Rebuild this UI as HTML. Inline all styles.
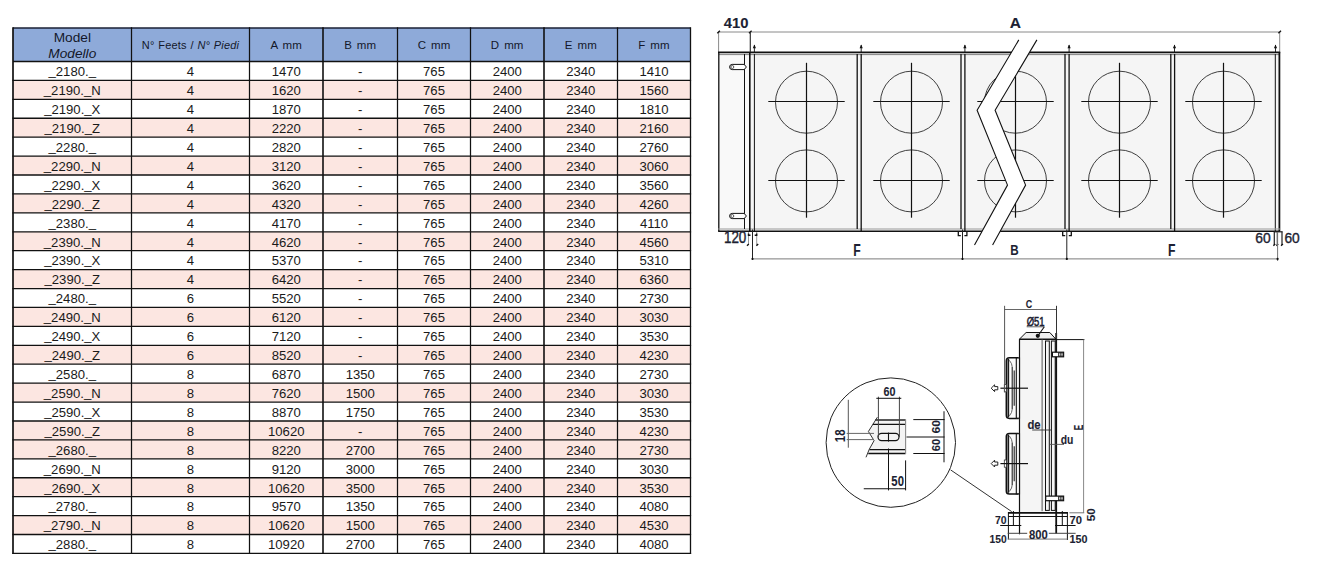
<!DOCTYPE html>
<html><head><meta charset="utf-8"><style>
html,body{margin:0;padding:0;background:#fff;width:1318px;height:576px;overflow:hidden;}
svg{display:block;}
</style></head><body>
<svg width="1318" height="576" viewBox="0 0 1318 576">
<rect width="1318" height="576" fill="#fff"/>
<rect x="13" y="28" width="677.5" height="33.5" fill="#8eaad9"/>
<rect x="13" y="80.42" width="677.5" height="18.92" fill="#fce6e1"/>
<rect x="13" y="118.26" width="677.5" height="18.92" fill="#fce6e1"/>
<rect x="13" y="156.10" width="677.5" height="18.92" fill="#fce6e1"/>
<rect x="13" y="193.94" width="677.5" height="18.92" fill="#fce6e1"/>
<rect x="13" y="231.78" width="677.5" height="18.92" fill="#fce6e1"/>
<rect x="13" y="269.62" width="677.5" height="18.92" fill="#fce6e1"/>
<rect x="13" y="307.46" width="677.5" height="18.92" fill="#fce6e1"/>
<rect x="13" y="345.30" width="677.5" height="18.92" fill="#fce6e1"/>
<rect x="13" y="383.14" width="677.5" height="18.92" fill="#fce6e1"/>
<rect x="13" y="420.98" width="677.5" height="18.92" fill="#fce6e1"/>
<rect x="13" y="439.90" width="677.5" height="18.92" fill="#fce6e1"/>
<rect x="13" y="477.74" width="677.5" height="18.92" fill="#fce6e1"/>
<rect x="13" y="515.58" width="677.5" height="18.92" fill="#fce6e1"/>
<g font-family="Liberation Sans" fill="#1a1a1a" font-size="13.6" text-anchor="middle" transform="matrix(0.965 0 0 1 0 0)">
<text x="74.87" y="76.30"><tspan dy="-1.00">_</tspan><tspan dy="1.00">2180.</tspan><tspan dy="-1.00">_</tspan></text>
<text x="197.41" y="76.30"><tspan>4</tspan></text>
<text x="296.63" y="76.30"><tspan>1470</tspan></text>
<text x="373.32" y="76.30"><tspan>-</tspan></text>
<text x="449.74" y="76.30"><tspan>765</tspan></text>
<text x="525.65" y="76.30"><tspan>2400</tspan></text>
<text x="601.81" y="76.30"><tspan>2340</tspan></text>
<text x="677.72" y="76.30"><tspan>1410</tspan></text>
<text x="74.87" y="95.22"><tspan dy="-1.00">_</tspan><tspan dy="1.00">2190.</tspan><tspan dy="-1.00">_</tspan><tspan dy="1.00">N</tspan></text>
<text x="197.41" y="95.22"><tspan>4</tspan></text>
<text x="296.63" y="95.22"><tspan>1620</tspan></text>
<text x="373.32" y="95.22"><tspan>-</tspan></text>
<text x="449.74" y="95.22"><tspan>765</tspan></text>
<text x="525.65" y="95.22"><tspan>2400</tspan></text>
<text x="601.81" y="95.22"><tspan>2340</tspan></text>
<text x="677.72" y="95.22"><tspan>1560</tspan></text>
<text x="74.87" y="114.14"><tspan dy="-1.00">_</tspan><tspan dy="1.00">2190.</tspan><tspan dy="-1.00">_</tspan><tspan dy="1.00">X</tspan></text>
<text x="197.41" y="114.14"><tspan>4</tspan></text>
<text x="296.63" y="114.14"><tspan>1870</tspan></text>
<text x="373.32" y="114.14"><tspan>-</tspan></text>
<text x="449.74" y="114.14"><tspan>765</tspan></text>
<text x="525.65" y="114.14"><tspan>2400</tspan></text>
<text x="601.81" y="114.14"><tspan>2340</tspan></text>
<text x="677.72" y="114.14"><tspan>1810</tspan></text>
<text x="74.87" y="133.06"><tspan dy="-1.00">_</tspan><tspan dy="1.00">2190.</tspan><tspan dy="-1.00">_</tspan><tspan dy="1.00">Z</tspan></text>
<text x="197.41" y="133.06"><tspan>4</tspan></text>
<text x="296.63" y="133.06"><tspan>2220</tspan></text>
<text x="373.32" y="133.06"><tspan>-</tspan></text>
<text x="449.74" y="133.06"><tspan>765</tspan></text>
<text x="525.65" y="133.06"><tspan>2400</tspan></text>
<text x="601.81" y="133.06"><tspan>2340</tspan></text>
<text x="677.72" y="133.06"><tspan>2160</tspan></text>
<text x="74.87" y="151.98"><tspan dy="-1.00">_</tspan><tspan dy="1.00">2280.</tspan><tspan dy="-1.00">_</tspan></text>
<text x="197.41" y="151.98"><tspan>4</tspan></text>
<text x="296.63" y="151.98"><tspan>2820</tspan></text>
<text x="373.32" y="151.98"><tspan>-</tspan></text>
<text x="449.74" y="151.98"><tspan>765</tspan></text>
<text x="525.65" y="151.98"><tspan>2400</tspan></text>
<text x="601.81" y="151.98"><tspan>2340</tspan></text>
<text x="677.72" y="151.98"><tspan>2760</tspan></text>
<text x="74.87" y="170.90"><tspan dy="-1.00">_</tspan><tspan dy="1.00">2290.</tspan><tspan dy="-1.00">_</tspan><tspan dy="1.00">N</tspan></text>
<text x="197.41" y="170.90"><tspan>4</tspan></text>
<text x="296.63" y="170.90"><tspan>3120</tspan></text>
<text x="373.32" y="170.90"><tspan>-</tspan></text>
<text x="449.74" y="170.90"><tspan>765</tspan></text>
<text x="525.65" y="170.90"><tspan>2400</tspan></text>
<text x="601.81" y="170.90"><tspan>2340</tspan></text>
<text x="677.72" y="170.90"><tspan>3060</tspan></text>
<text x="74.87" y="189.82"><tspan dy="-1.00">_</tspan><tspan dy="1.00">2290.</tspan><tspan dy="-1.00">_</tspan><tspan dy="1.00">X</tspan></text>
<text x="197.41" y="189.82"><tspan>4</tspan></text>
<text x="296.63" y="189.82"><tspan>3620</tspan></text>
<text x="373.32" y="189.82"><tspan>-</tspan></text>
<text x="449.74" y="189.82"><tspan>765</tspan></text>
<text x="525.65" y="189.82"><tspan>2400</tspan></text>
<text x="601.81" y="189.82"><tspan>2340</tspan></text>
<text x="677.72" y="189.82"><tspan>3560</tspan></text>
<text x="74.87" y="208.74"><tspan dy="-1.00">_</tspan><tspan dy="1.00">2290.</tspan><tspan dy="-1.00">_</tspan><tspan dy="1.00">Z</tspan></text>
<text x="197.41" y="208.74"><tspan>4</tspan></text>
<text x="296.63" y="208.74"><tspan>4320</tspan></text>
<text x="373.32" y="208.74"><tspan>-</tspan></text>
<text x="449.74" y="208.74"><tspan>765</tspan></text>
<text x="525.65" y="208.74"><tspan>2400</tspan></text>
<text x="601.81" y="208.74"><tspan>2340</tspan></text>
<text x="677.72" y="208.74"><tspan>4260</tspan></text>
<text x="74.87" y="227.66"><tspan dy="-1.00">_</tspan><tspan dy="1.00">2380.</tspan><tspan dy="-1.00">_</tspan></text>
<text x="197.41" y="227.66"><tspan>4</tspan></text>
<text x="296.63" y="227.66"><tspan>4170</tspan></text>
<text x="373.32" y="227.66"><tspan>-</tspan></text>
<text x="449.74" y="227.66"><tspan>765</tspan></text>
<text x="525.65" y="227.66"><tspan>2400</tspan></text>
<text x="601.81" y="227.66"><tspan>2340</tspan></text>
<text x="677.72" y="227.66"><tspan>4110</tspan></text>
<text x="74.87" y="246.58"><tspan dy="-1.00">_</tspan><tspan dy="1.00">2390.</tspan><tspan dy="-1.00">_</tspan><tspan dy="1.00">N</tspan></text>
<text x="197.41" y="246.58"><tspan>4</tspan></text>
<text x="296.63" y="246.58"><tspan>4620</tspan></text>
<text x="373.32" y="246.58"><tspan>-</tspan></text>
<text x="449.74" y="246.58"><tspan>765</tspan></text>
<text x="525.65" y="246.58"><tspan>2400</tspan></text>
<text x="601.81" y="246.58"><tspan>2340</tspan></text>
<text x="677.72" y="246.58"><tspan>4560</tspan></text>
<text x="74.87" y="265.50"><tspan dy="-1.00">_</tspan><tspan dy="1.00">2390.</tspan><tspan dy="-1.00">_</tspan><tspan dy="1.00">X</tspan></text>
<text x="197.41" y="265.50"><tspan>4</tspan></text>
<text x="296.63" y="265.50"><tspan>5370</tspan></text>
<text x="373.32" y="265.50"><tspan>-</tspan></text>
<text x="449.74" y="265.50"><tspan>765</tspan></text>
<text x="525.65" y="265.50"><tspan>2400</tspan></text>
<text x="601.81" y="265.50"><tspan>2340</tspan></text>
<text x="677.72" y="265.50"><tspan>5310</tspan></text>
<text x="74.87" y="284.42"><tspan dy="-1.00">_</tspan><tspan dy="1.00">2390.</tspan><tspan dy="-1.00">_</tspan><tspan dy="1.00">Z</tspan></text>
<text x="197.41" y="284.42"><tspan>4</tspan></text>
<text x="296.63" y="284.42"><tspan>6420</tspan></text>
<text x="373.32" y="284.42"><tspan>-</tspan></text>
<text x="449.74" y="284.42"><tspan>765</tspan></text>
<text x="525.65" y="284.42"><tspan>2400</tspan></text>
<text x="601.81" y="284.42"><tspan>2340</tspan></text>
<text x="677.72" y="284.42"><tspan>6360</tspan></text>
<text x="74.87" y="303.34"><tspan dy="-1.00">_</tspan><tspan dy="1.00">2480.</tspan><tspan dy="-1.00">_</tspan></text>
<text x="197.41" y="303.34"><tspan>6</tspan></text>
<text x="296.63" y="303.34"><tspan>5520</tspan></text>
<text x="373.32" y="303.34"><tspan>-</tspan></text>
<text x="449.74" y="303.34"><tspan>765</tspan></text>
<text x="525.65" y="303.34"><tspan>2400</tspan></text>
<text x="601.81" y="303.34"><tspan>2340</tspan></text>
<text x="677.72" y="303.34"><tspan>2730</tspan></text>
<text x="74.87" y="322.26"><tspan dy="-1.00">_</tspan><tspan dy="1.00">2490.</tspan><tspan dy="-1.00">_</tspan><tspan dy="1.00">N</tspan></text>
<text x="197.41" y="322.26"><tspan>6</tspan></text>
<text x="296.63" y="322.26"><tspan>6120</tspan></text>
<text x="373.32" y="322.26"><tspan>-</tspan></text>
<text x="449.74" y="322.26"><tspan>765</tspan></text>
<text x="525.65" y="322.26"><tspan>2400</tspan></text>
<text x="601.81" y="322.26"><tspan>2340</tspan></text>
<text x="677.72" y="322.26"><tspan>3030</tspan></text>
<text x="74.87" y="341.18"><tspan dy="-1.00">_</tspan><tspan dy="1.00">2490.</tspan><tspan dy="-1.00">_</tspan><tspan dy="1.00">X</tspan></text>
<text x="197.41" y="341.18"><tspan>6</tspan></text>
<text x="296.63" y="341.18"><tspan>7120</tspan></text>
<text x="373.32" y="341.18"><tspan>-</tspan></text>
<text x="449.74" y="341.18"><tspan>765</tspan></text>
<text x="525.65" y="341.18"><tspan>2400</tspan></text>
<text x="601.81" y="341.18"><tspan>2340</tspan></text>
<text x="677.72" y="341.18"><tspan>3530</tspan></text>
<text x="74.87" y="360.10"><tspan dy="-1.00">_</tspan><tspan dy="1.00">2490.</tspan><tspan dy="-1.00">_</tspan><tspan dy="1.00">Z</tspan></text>
<text x="197.41" y="360.10"><tspan>6</tspan></text>
<text x="296.63" y="360.10"><tspan>8520</tspan></text>
<text x="373.32" y="360.10"><tspan>-</tspan></text>
<text x="449.74" y="360.10"><tspan>765</tspan></text>
<text x="525.65" y="360.10"><tspan>2400</tspan></text>
<text x="601.81" y="360.10"><tspan>2340</tspan></text>
<text x="677.72" y="360.10"><tspan>4230</tspan></text>
<text x="74.87" y="379.02"><tspan dy="-1.00">_</tspan><tspan dy="1.00">2580.</tspan><tspan dy="-1.00">_</tspan></text>
<text x="197.41" y="379.02"><tspan>8</tspan></text>
<text x="296.63" y="379.02"><tspan>6870</tspan></text>
<text x="373.32" y="379.02"><tspan>1350</tspan></text>
<text x="449.74" y="379.02"><tspan>765</tspan></text>
<text x="525.65" y="379.02"><tspan>2400</tspan></text>
<text x="601.81" y="379.02"><tspan>2340</tspan></text>
<text x="677.72" y="379.02"><tspan>2730</tspan></text>
<text x="74.87" y="397.94"><tspan dy="-1.00">_</tspan><tspan dy="1.00">2590.</tspan><tspan dy="-1.00">_</tspan><tspan dy="1.00">N</tspan></text>
<text x="197.41" y="397.94"><tspan>8</tspan></text>
<text x="296.63" y="397.94"><tspan>7620</tspan></text>
<text x="373.32" y="397.94"><tspan>1500</tspan></text>
<text x="449.74" y="397.94"><tspan>765</tspan></text>
<text x="525.65" y="397.94"><tspan>2400</tspan></text>
<text x="601.81" y="397.94"><tspan>2340</tspan></text>
<text x="677.72" y="397.94"><tspan>3030</tspan></text>
<text x="74.87" y="416.86"><tspan dy="-1.00">_</tspan><tspan dy="1.00">2590.</tspan><tspan dy="-1.00">_</tspan><tspan dy="1.00">X</tspan></text>
<text x="197.41" y="416.86"><tspan>8</tspan></text>
<text x="296.63" y="416.86"><tspan>8870</tspan></text>
<text x="373.32" y="416.86"><tspan>1750</tspan></text>
<text x="449.74" y="416.86"><tspan>765</tspan></text>
<text x="525.65" y="416.86"><tspan>2400</tspan></text>
<text x="601.81" y="416.86"><tspan>2340</tspan></text>
<text x="677.72" y="416.86"><tspan>3530</tspan></text>
<text x="74.87" y="435.78"><tspan dy="-1.00">_</tspan><tspan dy="1.00">2590.</tspan><tspan dy="-1.00">_</tspan><tspan dy="1.00">Z</tspan></text>
<text x="197.41" y="435.78"><tspan>8</tspan></text>
<text x="296.63" y="435.78"><tspan>10620</tspan></text>
<text x="373.32" y="435.78"><tspan>-</tspan></text>
<text x="449.74" y="435.78"><tspan>765</tspan></text>
<text x="525.65" y="435.78"><tspan>2400</tspan></text>
<text x="601.81" y="435.78"><tspan>2340</tspan></text>
<text x="677.72" y="435.78"><tspan>4230</tspan></text>
<text x="74.87" y="454.70"><tspan dy="-1.00">_</tspan><tspan dy="1.00">2680.</tspan><tspan dy="-1.00">_</tspan></text>
<text x="197.41" y="454.70"><tspan>8</tspan></text>
<text x="296.63" y="454.70"><tspan>8220</tspan></text>
<text x="373.32" y="454.70"><tspan>2700</tspan></text>
<text x="449.74" y="454.70"><tspan>765</tspan></text>
<text x="525.65" y="454.70"><tspan>2400</tspan></text>
<text x="601.81" y="454.70"><tspan>2340</tspan></text>
<text x="677.72" y="454.70"><tspan>2730</tspan></text>
<text x="74.87" y="473.62"><tspan dy="-1.00">_</tspan><tspan dy="1.00">2690.</tspan><tspan dy="-1.00">_</tspan><tspan dy="1.00">N</tspan></text>
<text x="197.41" y="473.62"><tspan>8</tspan></text>
<text x="296.63" y="473.62"><tspan>9120</tspan></text>
<text x="373.32" y="473.62"><tspan>3000</tspan></text>
<text x="449.74" y="473.62"><tspan>765</tspan></text>
<text x="525.65" y="473.62"><tspan>2400</tspan></text>
<text x="601.81" y="473.62"><tspan>2340</tspan></text>
<text x="677.72" y="473.62"><tspan>3030</tspan></text>
<text x="74.87" y="492.54"><tspan dy="-1.00">_</tspan><tspan dy="1.00">2690.</tspan><tspan dy="-1.00">_</tspan><tspan dy="1.00">X</tspan></text>
<text x="197.41" y="492.54"><tspan>8</tspan></text>
<text x="296.63" y="492.54"><tspan>10620</tspan></text>
<text x="373.32" y="492.54"><tspan>3500</tspan></text>
<text x="449.74" y="492.54"><tspan>765</tspan></text>
<text x="525.65" y="492.54"><tspan>2400</tspan></text>
<text x="601.81" y="492.54"><tspan>2340</tspan></text>
<text x="677.72" y="492.54"><tspan>3530</tspan></text>
<text x="74.87" y="511.46"><tspan dy="-1.00">_</tspan><tspan dy="1.00">2780.</tspan><tspan dy="-1.00">_</tspan></text>
<text x="197.41" y="511.46"><tspan>8</tspan></text>
<text x="296.63" y="511.46"><tspan>9570</tspan></text>
<text x="373.32" y="511.46"><tspan>1350</tspan></text>
<text x="449.74" y="511.46"><tspan>765</tspan></text>
<text x="525.65" y="511.46"><tspan>2400</tspan></text>
<text x="601.81" y="511.46"><tspan>2340</tspan></text>
<text x="677.72" y="511.46"><tspan>4080</tspan></text>
<text x="74.87" y="530.38"><tspan dy="-1.00">_</tspan><tspan dy="1.00">2790.</tspan><tspan dy="-1.00">_</tspan><tspan dy="1.00">N</tspan></text>
<text x="197.41" y="530.38"><tspan>8</tspan></text>
<text x="296.63" y="530.38"><tspan>10620</tspan></text>
<text x="373.32" y="530.38"><tspan>1500</tspan></text>
<text x="449.74" y="530.38"><tspan>765</tspan></text>
<text x="525.65" y="530.38"><tspan>2400</tspan></text>
<text x="601.81" y="530.38"><tspan>2340</tspan></text>
<text x="677.72" y="530.38"><tspan>4530</tspan></text>
<text x="74.87" y="549.30"><tspan dy="-1.00">_</tspan><tspan dy="1.00">2880.</tspan><tspan dy="-1.00">_</tspan></text>
<text x="197.41" y="549.30"><tspan>8</tspan></text>
<text x="296.63" y="549.30"><tspan>10920</tspan></text>
<text x="373.32" y="549.30"><tspan>2700</tspan></text>
<text x="449.74" y="549.30"><tspan>765</tspan></text>
<text x="525.65" y="549.30"><tspan>2400</tspan></text>
<text x="601.81" y="549.30"><tspan>2340</tspan></text>
<text x="677.72" y="549.30"><tspan>4080</tspan></text>
</g>
<g font-family="Liberation Sans" fill="#14182a" text-anchor="middle">
<text x="72.3" y="41.6" font-size="13.7">Model</text>
<text x="72.3" y="57.6" font-size="13.7" font-style="italic">Modello</text>
<text x="190.5" y="49.2" font-size="11" letter-spacing="0.18" word-spacing="0.5">N° Feets / <tspan font-style="italic">N° Piedi</tspan></text>
<text x="286.2" y="49.4" font-size="11.5" letter-spacing="0.1" word-spacing="1.6">A mm</text>
<text x="360.2" y="49.4" font-size="11.5" letter-spacing="0.1" word-spacing="1.6">B mm</text>
<text x="434.0" y="49.4" font-size="11.5" letter-spacing="0.1" word-spacing="1.6">C mm</text>
<text x="507.2" y="49.4" font-size="11.5" letter-spacing="0.1" word-spacing="1.6">D mm</text>
<text x="580.8" y="49.4" font-size="11.5" letter-spacing="0.1" word-spacing="1.6">E mm</text>
<text x="654.0" y="49.4" font-size="11.5" letter-spacing="0.1" word-spacing="1.6">F mm</text>
</g>
<g stroke="#111" stroke-width="1.3" fill="none">
<line x1="13" y1="28" x2="690.5" y2="28" stroke="#1a2035" stroke-width="1.6"/>
<line x1="13" y1="61.5" x2="690.5" y2="61.5" stroke-width="1.6"/>
<line x1="12.4" y1="80.42" x2="691.1" y2="80.42"/>
<line x1="12.4" y1="99.34" x2="691.1" y2="99.34"/>
<line x1="12.4" y1="118.26" x2="691.1" y2="118.26"/>
<line x1="12.4" y1="137.18" x2="691.1" y2="137.18"/>
<line x1="12.4" y1="156.10" x2="691.1" y2="156.10"/>
<line x1="12.4" y1="175.02" x2="691.1" y2="175.02"/>
<line x1="12.4" y1="193.94" x2="691.1" y2="193.94"/>
<line x1="12.4" y1="212.86" x2="691.1" y2="212.86"/>
<line x1="12.4" y1="231.78" x2="691.1" y2="231.78"/>
<line x1="12.4" y1="250.70" x2="691.1" y2="250.70"/>
<line x1="12.4" y1="269.62" x2="691.1" y2="269.62"/>
<line x1="12.4" y1="288.54" x2="691.1" y2="288.54"/>
<line x1="12.4" y1="307.46" x2="691.1" y2="307.46"/>
<line x1="12.4" y1="326.38" x2="691.1" y2="326.38"/>
<line x1="12.4" y1="345.30" x2="691.1" y2="345.30"/>
<line x1="12.4" y1="364.22" x2="691.1" y2="364.22"/>
<line x1="12.4" y1="383.14" x2="691.1" y2="383.14"/>
<line x1="12.4" y1="402.06" x2="691.1" y2="402.06"/>
<line x1="12.4" y1="420.98" x2="691.1" y2="420.98"/>
<line x1="12.4" y1="439.90" x2="691.1" y2="439.90"/>
<line x1="12.4" y1="458.82" x2="691.1" y2="458.82"/>
<line x1="12.4" y1="477.74" x2="691.1" y2="477.74"/>
<line x1="12.4" y1="496.66" x2="691.1" y2="496.66"/>
<line x1="12.4" y1="515.58" x2="691.1" y2="515.58"/>
<line x1="12.4" y1="534.50" x2="691.1" y2="534.50"/>
<line x1="12.4" y1="553.42" x2="691.1" y2="553.42"/>
<line x1="13" y1="27.2" x2="13" y2="554.02" stroke-width="1.7"/>
<line x1="131.5" y1="27.2" x2="131.5" y2="554.02" stroke-width="1.25"/>
<line x1="249.5" y1="27.2" x2="249.5" y2="554.02" stroke-width="1.25"/>
<line x1="323" y1="27.2" x2="323" y2="554.02" stroke-width="1.6"/>
<line x1="397.5" y1="27.2" x2="397.5" y2="554.02" stroke-width="1.25"/>
<line x1="470.5" y1="27.2" x2="470.5" y2="554.02" stroke-width="1.25"/>
<line x1="544" y1="27.2" x2="544" y2="554.02" stroke-width="1.6"/>
<line x1="617.5" y1="27.2" x2="617.5" y2="554.02" stroke-width="1.25"/>
<line x1="690.5" y1="27.2" x2="690.5" y2="554.02" stroke-width="1.3"/>
</g>
<rect x="718.8" y="52" width="31" height="178.5" fill="#f9f9f9"/>
<rect x="750" y="52" width="529.3" height="178.5" fill="#f5f5f5"/>
<g stroke="#8a8a8a" stroke-width="1" fill="none">
<line x1="718.6" y1="32" x2="1279.7" y2="32"/>
<line x1="718.6" y1="32" x2="718.6" y2="52"/>
<line x1="750.3" y1="32" x2="750.3" y2="52"/>
<line x1="1279.7" y1="32" x2="1279.7" y2="52"/>
</g>
<g stroke="#111" fill="none">
<line x1="718" y1="52.4" x2="1280.2" y2="52.4" stroke-width="1.9"/>
<line x1="718.8" y1="54.6" x2="1279" y2="54.6" stroke="#777" stroke-width="0.9"/>
<line x1="718.8" y1="52" x2="718.8" y2="231.5" stroke-width="1.3"/>
<line x1="1279.4" y1="52" x2="1279.4" y2="232" stroke-width="1.8"/>
<line x1="1275.3" y1="54" x2="1275.3" y2="231" stroke-width="1"/>
<line x1="718.2" y1="229.0" x2="1280" y2="229.0" stroke="#999" stroke-width="1"/>
<line x1="718.2" y1="231.3" x2="1280" y2="231.3" stroke-width="1.5"/>
<line x1="744.5" y1="54" x2="744.5" y2="229" stroke-width="1"/>
<line x1="749.8" y1="52" x2="749.8" y2="231" stroke-width="1.6"/>
<line x1="754.4" y1="54" x2="754.4" y2="231" stroke-width="1"/>
<line x1="857.2" y1="54" x2="857.2" y2="229" stroke-width="1.3"/>
<line x1="861.2" y1="54" x2="861.2" y2="231" stroke-width="1.3"/>
<line x1="961.0" y1="54" x2="961.0" y2="229" stroke-width="1.3"/>
<line x1="964.9" y1="54" x2="964.9" y2="231" stroke-width="1.3"/>
<line x1="1065.0" y1="54" x2="1065.0" y2="229" stroke-width="1.3"/>
<line x1="1069.1" y1="54" x2="1069.1" y2="231" stroke-width="1.3"/>
<line x1="1170.8" y1="54" x2="1170.8" y2="229" stroke-width="1.3"/>
<line x1="1174.6" y1="54" x2="1174.6" y2="231" stroke-width="1.3"/>
</g>
<path d="M732.2,64.4 L744.2,64.4 L746.4,67 L744.2,69.6 L732.2,69.6 A2.6,2.6 0 0 1 732.2,64.4 Z" fill="#fff" stroke="#111" stroke-width="1"/>
<circle cx="732.3" cy="67" r="1.5" fill="none" stroke="#333" stroke-width="0.8"/>
<path d="M732.2,213.4 L744.2,213.4 L746.4,216 L744.2,218.6 L732.2,218.6 A2.6,2.6 0 0 1 732.2,213.4 Z" fill="#fff" stroke="#111" stroke-width="1"/>
<circle cx="732.3" cy="216" r="1.5" fill="none" stroke="#333" stroke-width="0.8"/>
<g stroke="#111" stroke-width="0.9" fill="#111">
<line x1="754.4" y1="45" x2="754.4" y2="52"/><path d="M752.8,48.2 L754.4,44.6 L756.0,48.2 Z" stroke="none"/>
<line x1="861.2" y1="45" x2="861.2" y2="52"/><path d="M859.6,48.2 L861.2,44.6 L862.8000000000001,48.2 Z" stroke="none"/>
<line x1="964.9" y1="45" x2="964.9" y2="52"/><path d="M963.3,48.2 L964.9,44.6 L966.5,48.2 Z" stroke="none"/>
<line x1="1069.1" y1="45" x2="1069.1" y2="52"/><path d="M1067.5,48.2 L1069.1,44.6 L1070.6999999999998,48.2 Z" stroke="none"/>
<line x1="1174.5" y1="45" x2="1174.5" y2="52"/><path d="M1172.9,48.2 L1174.5,44.6 L1176.1,48.2 Z" stroke="none"/>
<line x1="1275.5" y1="45" x2="1275.5" y2="52"/><path d="M1273.9,48.2 L1275.5,44.6 L1277.1,48.2 Z" stroke="none"/>
</g>
<g fill="none">
<circle cx="806.5" cy="102.2" r="31" stroke="#2a2a2a" stroke-width="0.9"/>
<line x1="768.3" y1="101.5" x2="844.7" y2="101.5" stroke="#111" stroke-width="1.2"/>
<circle cx="806.5" cy="180.9" r="31" stroke="#2a2a2a" stroke-width="0.9"/>
<line x1="768.3" y1="180.5" x2="844.7" y2="180.5" stroke="#111" stroke-width="1.2"/>
<line x1="806.5" y1="62.8" x2="806.5" y2="217.7" stroke="#111" stroke-width="1.2"/>
<circle cx="911.5" cy="102.2" r="31" stroke="#2a2a2a" stroke-width="0.9"/>
<line x1="873.3" y1="101.5" x2="949.7" y2="101.5" stroke="#111" stroke-width="1.2"/>
<circle cx="911.5" cy="180.9" r="31" stroke="#2a2a2a" stroke-width="0.9"/>
<line x1="873.3" y1="180.5" x2="949.7" y2="180.5" stroke="#111" stroke-width="1.2"/>
<line x1="911.5" y1="62.8" x2="911.5" y2="217.7" stroke="#111" stroke-width="1.2"/>
<circle cx="1015.5" cy="102.2" r="31" stroke="#2a2a2a" stroke-width="0.9"/>
<line x1="977.3" y1="101.5" x2="1053.7" y2="101.5" stroke="#111" stroke-width="1.2"/>
<circle cx="1015.5" cy="180.9" r="31" stroke="#2a2a2a" stroke-width="0.9"/>
<line x1="977.3" y1="180.5" x2="1053.7" y2="180.5" stroke="#111" stroke-width="1.2"/>
<line x1="1015.5" y1="62.8" x2="1015.5" y2="217.7" stroke="#111" stroke-width="1.2"/>
<circle cx="1119.5" cy="102.2" r="31" stroke="#2a2a2a" stroke-width="0.9"/>
<line x1="1081.3" y1="101.5" x2="1157.7" y2="101.5" stroke="#111" stroke-width="1.2"/>
<circle cx="1119.5" cy="180.9" r="31" stroke="#2a2a2a" stroke-width="0.9"/>
<line x1="1081.3" y1="180.5" x2="1157.7" y2="180.5" stroke="#111" stroke-width="1.2"/>
<line x1="1119.5" y1="62.8" x2="1119.5" y2="217.7" stroke="#111" stroke-width="1.2"/>
<circle cx="1223.5" cy="102.2" r="31" stroke="#2a2a2a" stroke-width="0.9"/>
<line x1="1185.3" y1="101.5" x2="1261.7" y2="101.5" stroke="#111" stroke-width="1.2"/>
<circle cx="1223.5" cy="180.9" r="31" stroke="#2a2a2a" stroke-width="0.9"/>
<line x1="1185.3" y1="180.5" x2="1261.7" y2="180.5" stroke="#111" stroke-width="1.2"/>
<line x1="1223.5" y1="62.8" x2="1223.5" y2="217.7" stroke="#111" stroke-width="1.2"/>
</g>
<path d="M1018.8,39.9 L977.1,110.3 L1007.5,185.1 L974.5,245 L992.6,245 L1025.6,185.1 L995.1,110.3 L1036.9,39.9 Z" fill="#fff" stroke="none"/>
<g stroke="#111" stroke-width="1.1" fill="none">
<polyline points="1018.8,39.9 977.1,110.3 1007.5,185.1 974.5,245"/>
<polyline points="1036.9,39.9 995.1,110.3 1025.6,185.1 992.6,245"/>
</g>
<g stroke="#111" stroke-width="1.3" fill="none">
<path d="M958.3000000000001,231.5 L958.3000000000001,235.6 L960.8000000000001,235.6 M966.9,231.5 L966.9,235.6 L964.4,235.6"/>
<path d="M1062.7,231.5 L1062.7,235.6 L1065.2,235.6 M1071.3,231.5 L1071.3,235.6 L1068.8,235.6"/>
</g>
<g stroke="#999" stroke-width="1" fill="none">
<line x1="748.5" y1="232" x2="748.5" y2="245"/><line x1="756.7" y1="232" x2="756.7" y2="245"/>
</g>
<g stroke="#222" stroke-width="1.2" fill="none">
<line x1="1274.3" y1="231.5" x2="1274.3" y2="245"/><line x1="1282" y1="231.5" x2="1282" y2="245"/>
<line x1="1277.3" y1="232" x2="1277.3" y2="245" stroke="#444"/>
<line x1="1273.8" y1="231.8" x2="1282.5" y2="231.8"/>
</g>
<g stroke="#111" stroke-width="1.4" fill="none">
<path d="M748.5,233.5 L748.5,235.3 L750.5,235.3 M756.7,233.5 L756.7,235.3 L754.7,235.3"/>
<line x1="747.0" y1="245.70000000000002" x2="748.8" y2="244.1"/>
<line x1="756.4" y1="245.70000000000002" x2="758.1999999999999" y2="244.1"/>
<line x1="1273.3999999999999" y1="245.70000000000002" x2="1275.2" y2="244.1"/>
<line x1="1276.3999999999999" y1="245.70000000000002" x2="1278.2" y2="244.1"/>
<line x1="1281.1" y1="245.70000000000002" x2="1282.9" y2="244.1"/>
</g>
<g stroke="#7a7a7a" stroke-width="1" fill="none">
<line x1="752.5" y1="258.9" x2="1277.6" y2="258.9"/>
</g>
<g stroke="#222" stroke-width="1" fill="none">
<line x1="752.5" y1="229.5" x2="752.5" y2="260"/>
<line x1="962.5" y1="229.5" x2="962.5" y2="260"/>
<line x1="1066.8" y1="229.5" x2="1066.8" y2="260"/>
<line x1="1277.6" y1="232" x2="1277.6" y2="261" stroke="#777"/>
</g>
<g fill="#111">
<circle cx="752.5" cy="258.9" r="1.1"/>
<circle cx="962.5" cy="258.9" r="1.1"/>
<circle cx="1066.8" cy="258.9" r="1.1"/>
<circle cx="1277.6" cy="258.9" r="1.1"/>
</g>
<g stroke="#111" stroke-width="1.3">
<line x1="717.3000000000001" y1="33.3" x2="719.9" y2="30.7"/>
<line x1="749.0" y1="33.3" x2="751.5999999999999" y2="30.7"/>
<line x1="1278.4" y1="33.3" x2="1281.0" y2="30.7"/>
</g>
<line x1="750.3" y1="32" x2="750.3" y2="52" stroke="#333" stroke-width="1"/>
<text x="723.77" y="27.75" font-family="Liberation Sans" font-weight="bold" font-size="14.10" fill="#1d1f33" stroke="#1d1f33" stroke-width="0.1" textLength="24.67" lengthAdjust="spacingAndGlyphs" >410</text>
<text x="1009.67" y="27.75" font-family="Liberation Sans" font-weight="bold" font-size="14.10" fill="#1d1f33" stroke="#1d1f33" stroke-width="0.1" textLength="11.27" lengthAdjust="spacingAndGlyphs" >A</text>
<text x="853.29" y="255.55" font-family="Liberation Sans" font-weight="bold" font-size="15.84" fill="#1d1f33" stroke="#1d1f33" stroke-width="0.1" textLength="7.43" lengthAdjust="spacingAndGlyphs" >F</text>
<text x="1010.30" y="255.35" font-family="Liberation Sans" font-weight="bold" font-size="15.55" fill="#1d1f33" stroke="#1d1f33" stroke-width="0.1" textLength="8.40" lengthAdjust="spacingAndGlyphs" >B</text>
<text x="1167.99" y="255.55" font-family="Liberation Sans" font-weight="bold" font-size="15.84" fill="#1d1f33" stroke="#1d1f33" stroke-width="0.1" textLength="7.43" lengthAdjust="spacingAndGlyphs" >F</text>
<text x="723.95" y="243.45" font-family="Liberation Sans"  font-size="16.72" fill="#1d1f33" stroke="#1d1f33" stroke-width="0.4" textLength="22.40" lengthAdjust="spacingAndGlyphs" >120</text>
<text x="1255.30" y="242.95" font-family="Liberation Sans"  font-size="15.55" fill="#1d1f33" stroke="#1d1f33" stroke-width="0.4" textLength="15.40" lengthAdjust="spacingAndGlyphs" >60</text>
<text x="1284.40" y="242.95" font-family="Liberation Sans"  font-size="15.55" fill="#1d1f33" stroke="#1d1f33" stroke-width="0.4" textLength="15.30" lengthAdjust="spacingAndGlyphs" >60</text>
<rect x="1019.5" y="339.2" width="36.6" height="173.5" fill="#f5f5f5"/>
<polygon points="1019.4,339.2 1026.1,332.5 1049.8,332.5 1055.9,339.2" fill="#eeeeee" stroke="#111" stroke-width="1"/>
<g stroke="#111" fill="none">
<line x1="1019.5" y1="339.2" x2="1019.5" y2="534.3" stroke-width="1.2"/>
<line x1="1056.2" y1="333" x2="1056.2" y2="533.5" stroke-width="1.8"/>
<line x1="1019" y1="339.4" x2="1056.5" y2="339.4" stroke-width="1.2"/>
<line x1="1042.1" y1="339.4" x2="1042.1" y2="511.2" stroke="#555" stroke-width="1"/>
<rect x="1045.5" y="341" width="3.8" height="169.4" stroke-width="1"/>
<rect x="1051.4" y="341" width="3.8" height="169.4" stroke-width="1"/>
<rect x="1052.4" y="352.2" width="11.2" height="4.6" fill="#fff" stroke-width="1.2"/>
<rect x="1058.7" y="352.8" width="4.4" height="3.4" fill="#fff" stroke-width="1"/>
<line x1="1060.9" y1="352.8" x2="1060.9" y2="356.2" stroke-width="1"/>
<rect x="1045.7" y="496.1" width="17.9" height="4.6" fill="#fff" stroke-width="1.2"/>
<rect x="1058.7" y="496.70000000000005" width="4.4" height="3.4" fill="#fff" stroke-width="1"/>
<line x1="1060.9" y1="496.70000000000005" x2="1060.9" y2="500.1" stroke-width="1"/>
<line x1="1008" y1="512.8" x2="1067.8" y2="512.8" stroke-width="1.7"/>
<line x1="1008.2" y1="516.5" x2="1067.6" y2="516.5" stroke-width="1.1"/>
<line x1="1008.4" y1="512" x2="1008.4" y2="539.4" stroke-width="1"/>
<line x1="1067.4" y1="512" x2="1067.4" y2="540" stroke-width="1"/>
<line x1="1013.4" y1="511" x2="1013.4" y2="526" stroke-width="1"/>
<line x1="1062.3" y1="511" x2="1062.3" y2="526" stroke-width="1"/>
<line x1="1000.2" y1="525.5" x2="1021.3" y2="525.5" stroke-width="1"/>
<line x1="1055" y1="525.5" x2="1075.6" y2="525.5" stroke-width="1"/>
<line x1="1007.7" y1="533.3" x2="1027.2" y2="533.3" stroke="#444" stroke-width="1"/>
<line x1="1048.8" y1="533.3" x2="1075.6" y2="533.3" stroke="#444" stroke-width="1"/>
<line x1="1007.7" y1="539.1" x2="1067.4" y2="539.1" stroke="#777" stroke-width="1"/>
</g>
<path d="M1018.6,357.8 L1009.4,357.8 Q1006.3,357.8 1006.3,360.90000000000003 L1006.3,415.29999999999995 Q1006.3,418.4 1009.4,418.4 L1018.6,418.4" fill="#fbfbfb" stroke="#111" stroke-width="1.5"/>
<line x1="1008.3" y1="359.0" x2="1008.3" y2="417.2" stroke="#1a1a1a" stroke-width="1.7"/>
<rect x="1016.3" y="358.0" width="3.2" height="60.2" fill="#f4f4f4" stroke="#111" stroke-width="1.1"/>
<line x1="1012.2" y1="366.9" x2="1012.2" y2="409.3" stroke="#222" stroke-width="1.1"/>
<line x1="1014.2" y1="370.5" x2="1014.2" y2="405.7" stroke="#222" stroke-width="1.1"/>
<path d="M1009.4,360.3 Q1012.2,363.8 1012.2,366.9" fill="none" stroke="#555" stroke-width="0.9"/>
<path d="M1009.4,415.9 Q1012.2,412.4 1012.2,409.3" fill="none" stroke="#555" stroke-width="0.9"/>
<path d="M1018.6,433.5 L1009.4,433.5 Q1006.3,433.5 1006.3,436.6 L1006.3,490.9 Q1006.3,494.0 1009.4,494.0 L1018.6,494.0" fill="#fbfbfb" stroke="#111" stroke-width="1.5"/>
<line x1="1008.3" y1="434.7" x2="1008.3" y2="492.8" stroke="#1a1a1a" stroke-width="1.7"/>
<rect x="1016.3" y="433.7" width="3.2" height="60.1" fill="#f4f4f4" stroke="#111" stroke-width="1.1"/>
<line x1="1012.2" y1="442.6" x2="1012.2" y2="484.9" stroke="#222" stroke-width="1.1"/>
<line x1="1014.2" y1="446.2" x2="1014.2" y2="481.3" stroke="#222" stroke-width="1.1"/>
<path d="M1009.4,436.0 Q1012.2,439.5 1012.2,442.6" fill="none" stroke="#555" stroke-width="0.9"/>
<path d="M1009.4,491.5 Q1012.2,488.0 1012.2,484.9" fill="none" stroke="#555" stroke-width="0.9"/>
<rect x="1004.3" y="384.59999999999997" width="2.2" height="7.2" fill="#fff" stroke="#333" stroke-width="0.8"/>
<line x1="1000.4" y1="388.2" x2="1028" y2="388.2" stroke="#111" stroke-width="1.2"/>
<path d="M991.2,388.2 L994.6,384.8 L994.6,386.59999999999997 L997.8,386.59999999999997 L997.8,389.8 L994.6,389.8 L994.6,391.59999999999997 Z" fill="#fff" stroke="#222" stroke-width="1"/>
<rect x="1004.3" y="460.0" width="2.2" height="7.2" fill="#fff" stroke="#333" stroke-width="0.8"/>
<line x1="1000.4" y1="463.6" x2="1028" y2="463.6" stroke="#111" stroke-width="1.2"/>
<path d="M991.2,463.6 L994.6,460.20000000000005 L994.6,462.0 L997.8,462.0 L997.8,465.20000000000005 L994.6,465.20000000000005 L994.6,467.0 Z" fill="#fff" stroke="#222" stroke-width="1"/>
<g stroke="#333" stroke-width="1" fill="none">
<line x1="1004.4" y1="309.5" x2="1056.8" y2="309.5" stroke="#666"/>
<line x1="1004.6" y1="305.8" x2="1004.6" y2="392.3" stroke="#555"/>
<line x1="1056.5" y1="305.8" x2="1056.5" y2="339"/>
<line x1="1057" y1="339.6" x2="1084.4" y2="339.6" stroke="#111"/>
<line x1="1083.6" y1="339.6" x2="1083.6" y2="512.8" stroke="#888"/>
<line x1="1069.4" y1="512.8" x2="1084.2" y2="512.8" stroke="#777"/>
<line x1="1026.7" y1="326.8" x2="1044.4" y2="326.8" stroke="#555" stroke-width="0.9"/>
<line x1="1044.3" y1="326.8" x2="1038" y2="335.8" stroke="#111" stroke-width="1.1"/>
<line x1="1032.2" y1="430" x2="1051.5" y2="430" stroke="#333" stroke-width="0.9"/>
<line x1="1049.9" y1="444.4" x2="1064" y2="444.4" stroke="#555" stroke-width="0.9"/>
</g>
<circle cx="1037.8" cy="335.8" r="2.1" fill="#111"/>
<text x="1025.87" y="307.55" font-family="Liberation Sans" font-weight="bold" font-size="11.77" fill="#1d1f33" stroke="#1d1f33" stroke-width="0.1" textLength="6.46" lengthAdjust="spacingAndGlyphs" >C</text>
<text x="1026.76" y="325.75" font-family="Liberation Sans"  font-size="12.06" fill="#1d1f33" stroke="#1d1f33" stroke-width="0.55" textLength="17.79" lengthAdjust="spacingAndGlyphs" >&#216;51</text>
<text x="1027.39" y="429.05" font-family="Liberation Sans" font-weight="bold" font-size="13.66" fill="#1d1f33" stroke="#1d1f33" stroke-width="0.1" textLength="13.23" lengthAdjust="spacingAndGlyphs" >de</text>
<text x="1060.79" y="443.65" font-family="Liberation Sans" font-weight="bold" font-size="13.66" fill="#1d1f33" stroke="#1d1f33" stroke-width="0.1" textLength="12.63" lengthAdjust="spacingAndGlyphs" >du</text>
<text transform="translate(1082.75,427.60) rotate(-90)" x="0" y="0" text-anchor="middle" font-family="Liberation Sans" font-weight="bold" font-size="12.21" fill="#1d1f33" stroke="#1d1f33" stroke-width="0.1" textLength="5.50" lengthAdjust="spacingAndGlyphs">E</text>
<text x="994.97" y="523.50" font-family="Liberation Sans" font-weight="bold" font-size="11.70" fill="#1d1f33" stroke="#1d1f33" stroke-width="0.1" textLength="11.65" lengthAdjust="spacingAndGlyphs" >70</text>
<text x="1069.48" y="523.75" font-family="Liberation Sans" font-weight="bold" font-size="11.63" fill="#1d1f33" stroke="#1d1f33" stroke-width="0.1" textLength="12.55" lengthAdjust="spacingAndGlyphs" >70</text>
<text x="1029.02" y="538.65" font-family="Liberation Sans" font-weight="bold" font-size="12.94" fill="#1d1f33" stroke="#1d1f33" stroke-width="0.1" textLength="18.76" lengthAdjust="spacingAndGlyphs" >800</text>
<text x="989.49" y="543.05" font-family="Liberation Sans" font-weight="bold" font-size="11.34" fill="#1d1f33" stroke="#1d1f33" stroke-width="0.1" textLength="17.12" lengthAdjust="spacingAndGlyphs" >150</text>
<text x="1069.50" y="542.95" font-family="Liberation Sans" font-weight="bold" font-size="11.05" fill="#1d1f33" stroke="#1d1f33" stroke-width="0.1" textLength="17.99" lengthAdjust="spacingAndGlyphs" >150</text>
<text transform="translate(1095.35,514.80) rotate(-90)" x="0" y="0" text-anchor="middle" font-family="Liberation Sans" font-weight="bold" font-size="10.32" fill="#1d1f33" stroke="#1d1f33" stroke-width="0.1" textLength="12.93" lengthAdjust="spacingAndGlyphs">50</text>
<circle cx="890.8" cy="442.6" r="64.7" fill="none" stroke="#222" stroke-width="1"/>
<line x1="950.6" y1="469.9" x2="1011.7" y2="511.6" stroke="#333" stroke-width="1"/>
<polygon points="875,420 905.6,420 905.6,453.5 868.3,453.5 869.3,449.2 874.1,440.6 868.4,431.5 872.7,424.3" fill="#f3f3f3"/>
<g stroke="#111" fill="none">
<line x1="875.2" y1="420" x2="905.6" y2="420" stroke-width="1.4"/>
<line x1="872.7" y1="424.3" x2="905.6" y2="424.3" stroke-width="1.3"/>
<line x1="869.4" y1="449.6" x2="905.6" y2="449.6" stroke-width="1.2"/>
<line x1="868.3" y1="453.5" x2="905.6" y2="453.5" stroke-width="1.5"/>
<line x1="905.6" y1="419.5" x2="905.6" y2="454" stroke="#888" stroke-width="1.1"/>
<polyline points="877.4,417.2 868.4,431.5 874.1,440.6 869.3,449.2 866,457.3" stroke="#333" stroke-width="1"/>
<rect x="878" y="433.4" width="21" height="7.2" rx="3.6" fill="#f4f4f4" stroke-width="1.2"/>
<line x1="888.5" y1="432.6" x2="888.5" y2="441.6" stroke-width="1.1"/>
<line x1="878.4" y1="396.7" x2="878.4" y2="437" stroke="#444" stroke-width="1"/>
<line x1="899.4" y1="396.7" x2="899.4" y2="437" stroke="#444" stroke-width="1"/>
<line x1="876.3" y1="398.3" x2="901.3" y2="398.3" stroke-width="1"/>
<line x1="848.3" y1="399.8" x2="848.3" y2="447.7" stroke="#555" stroke-width="1"/>
<line x1="846.7" y1="433.4" x2="874" y2="433.4" stroke="#666" stroke-width="1"/>
<line x1="846.7" y1="439.6" x2="874" y2="439.6" stroke="#666" stroke-width="1"/>
<line x1="913.3" y1="419.6" x2="944.6" y2="419.6" stroke-width="1"/>
<line x1="906.5" y1="437" x2="944.6" y2="437" stroke-width="1"/>
<line x1="913.3" y1="453.5" x2="944.6" y2="453.5" stroke-width="1"/>
<line x1="944" y1="411.25" x2="944" y2="462.3" stroke-width="1"/>
<line x1="888.5" y1="448.5" x2="888.5" y2="490.4" stroke-width="1"/>
<line x1="905.6" y1="460.4" x2="905.6" y2="490.4" stroke-width="1"/>
<line x1="863.75" y1="488.75" x2="906" y2="488.75" stroke-width="1"/>
</g>
<text x="883.62" y="396.45" font-family="Liberation Sans" font-weight="bold" font-size="12.94" fill="#1d1f33" stroke="#1d1f33" stroke-width="0.1" textLength="11.96" lengthAdjust="spacingAndGlyphs" >60</text>
<text x="891.35" y="486.00" font-family="Liberation Sans" font-weight="bold" font-size="14.46" fill="#1d1f33" stroke="#1d1f33" stroke-width="0.1" textLength="12.60" lengthAdjust="spacingAndGlyphs" >50</text>
<text transform="translate(845.35,435.75) rotate(-90)" x="0" y="0" text-anchor="middle" font-family="Liberation Sans" font-weight="bold" font-size="14.39" fill="#1d1f33" stroke="#1d1f33" stroke-width="0" textLength="12.80" lengthAdjust="spacingAndGlyphs">18</text>
<text transform="translate(940.15,426.85) rotate(-90)" x="0" y="0" text-anchor="middle" font-family="Liberation Sans" font-weight="bold" font-size="11.48" fill="#1d1f33" stroke="#1d1f33" stroke-width="0.1" textLength="13.53" lengthAdjust="spacingAndGlyphs">60</text>
<text transform="translate(940.15,445.10) rotate(-90)" x="0" y="0" text-anchor="middle" font-family="Liberation Sans" font-weight="bold" font-size="11.48" fill="#1d1f33" stroke="#1d1f33" stroke-width="0.1" textLength="12.43" lengthAdjust="spacingAndGlyphs">60</text>
</svg>
</body></html>
